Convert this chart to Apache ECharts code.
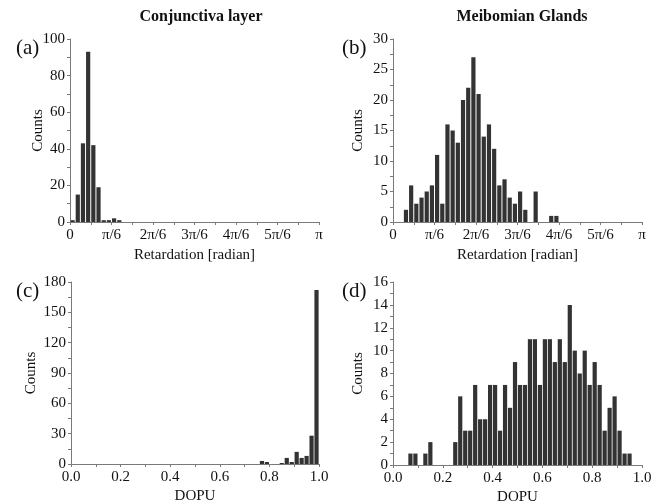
<!DOCTYPE html>
<html>
<head>
<meta charset="utf-8">
<script src="https://cdn.jsdelivr.net/npm/echarts@6/dist/echarts.min.js"></script>
<style>
  html, body { margin: 0; padding: 0; background: #fff; }
  #chart { width: 654px; height: 503px; }
</style>
</head>
<body>
<div id="chart"></div>
<script>
// histogram counts, one value per bin
// retardation: 48 bins of pi/48 from 0 to pi
const conjRetardation = [1, 15, 43, 93, 42, 19, 1, 1, 2, 1, 0, 0, 0, 0, 0, 0,
  0, 0, 0, 0, 0, 0, 0, 0, 0, 0, 0, 0, 0, 0, 0, 0,
  0, 0, 0, 0, 0, 0, 0, 0, 0, 0, 0, 0, 0, 0, 0, 0];
const meibRetardation = [0, 0, 2, 6, 3, 4, 5, 6, 11, 3, 16, 15, 13, 20, 22, 27,
  21, 14, 16, 12, 6, 7, 4, 3, 5, 2, 0, 5, 0, 0, 1, 1,
  0, 0, 0, 0, 0, 0, 0, 0, 0, 0, 0, 0, 0, 0, 0, 0];
// DOPU: 50 bins of 0.02 from 0 to 1
const conjDopu = [0, 0, 0, 0, 0, 0, 0, 0, 0, 0, 0, 0, 0, 0, 0, 0, 0, 0, 0, 0,
  0, 0, 0, 0, 0, 0, 0, 0, 0, 0, 0, 0, 0, 0, 0, 0, 0, 0, 3, 2,
  0, 0, 1, 6, 2, 12, 6, 8, 28, 172];
const meibDopu = [0, 0, 0, 1, 1, 0, 1, 2, 0, 0, 0, 0, 2, 6, 3, 3, 7, 4, 4, 7,
  7, 3, 7, 5, 9, 7, 7, 11, 11, 7, 11, 11, 9, 11, 9, 14, 10, 8, 10, 7,
  9, 7, 3, 5, 6, 3, 1, 1, 0, 0];

const retardationLabels = ['0', 'π/6', '2π/6', '3π/6', '4π/6', '5π/6', 'π'];
const dopuLabels = ['0.0', '0.2', '0.4', '0.6', '0.8', '1.0'];
const columnTitles = ['Conjunctiva layer', 'Meibomian Glands'];
const panelLetters = ['(a)', '(b)', '(c)', '(d)'];

const FONT = '"Liberation Serif", "DejaVu Serif", serif';
const AXIS_GRAY = '#7a7a7a';

const binWidthRet = Math.PI / 48;
const binWidthDopu = 0.02;

function toPoints(counts, width) {
  return counts.map((c, i) => [(i + 0.5) * width, c]);
}

const grids = [
  { left: 70, top: 39, width: 249, height: 183 },
  { left: 393, top: 39, width: 249, height: 183 },
  { left: 71, top: 282, width: 248, height: 182 },
  { left: 393, top: 282, width: 249, height: 183 }
].map(g => Object.assign(g, { outerBoundsMode: 'none', containLabel: false }));

function xAxisFor(gridIndex, isRet) {
  return {
    type: 'value',
    gridIndex: gridIndex,
    min: 0,
    max: isRet ? Math.PI : 1,
    interval: isRet ? Math.PI / 6 : 0.2,
    name: isRet ? 'Retardation [radian]' : 'DOPU',
    nameLocation: 'middle',
    nameMoveOverlap: false,
    nameGap: isRet ? 26 : 25,
    nameTextStyle: { fontFamily: FONT, fontSize: 15, color: '#111' },
    axisLine: { show: true, lineStyle: { color: AXIS_GRAY, width: 1 } },
    axisTick: { show: true, length: 3, lineStyle: { color: AXIS_GRAY } },
    minorTick: { show: true, splitNumber: 2, length: 3, lineStyle: { color: AXIS_GRAY } },
    splitLine: { show: false },
    axisLabel: {
      margin: 6,
      fontFamily: FONT,
      fontSize: 15,
      color: '#111',
      formatter: function (v) {
        if (isRet) return retardationLabels[Math.round(v / (Math.PI / 6))];
        return dopuLabels[Math.round(v / 0.2)];
      }
    }
  };
}

function yAxisFor(gridIndex, max, interval, gap) {
  return {
    type: 'value',
    gridIndex: gridIndex,
    min: 0,
    max: max,
    interval: interval,
    name: 'Counts',
    nameLocation: 'middle',
    nameMoveOverlap: false,
    nameGap: gap,
    nameTextStyle: { fontFamily: FONT, fontSize: 15, color: '#111' },
    axisLine: { show: true, lineStyle: { color: AXIS_GRAY, width: 1 } },
    axisTick: { show: true, length: 3, lineStyle: { color: AXIS_GRAY } },
    minorTick: { show: true, splitNumber: 2, length: 3, lineStyle: { color: AXIS_GRAY } },
    splitLine: { show: false },
    axisLabel: { margin: 5, fontFamily: FONT, fontSize: 15, color: '#111' }
  };
}

function barSeries(idx, data) {
  return {
    type: 'bar',
    xAxisIndex: idx,
    yAxisIndex: idx,
    data: data,
    barWidth: 4.2,
    itemStyle: { color: '#333' },
    silent: true,
    animation: false
  };
}

const chart = echarts.init(document.getElementById('chart'));

const titles = [
  { text: columnTitles[0], left: 196, top: 4, textAlign: 'center' },
  { text: columnTitles[1], left: 517, top: 4, textAlign: 'center' }
].map(t => Object.assign(t, {
  textStyle: { fontFamily: FONT, fontSize: 16, fontWeight: 'bold', color: '#111' }
}));

const letterPos = [[11, 33], [337, 33], [11, 276], [337, 276]];
letterPos.forEach((p, i) => {
  titles.push({
    text: panelLetters[i],
    left: p[0],
    top: p[1],
    textStyle: { fontFamily: FONT, fontSize: 21, fontWeight: 'normal', color: '#111' }
  });
});

chart.setOption({
  backgroundColor: '#fff',
  animation: false,
  title: titles,
  grid: grids,
  xAxis: [xAxisFor(0, true), xAxisFor(1, true), xAxisFor(2, false), xAxisFor(3, false)],
  yAxis: [
    yAxisFor(0, 100, 20, 24),
    yAxisFor(1, 30, 5, 27),
    yAxisFor(2, 180, 30, 32),
    yAxisFor(3, 16, 2, 27)
  ],
  series: [
    barSeries(0, toPoints(conjRetardation, binWidthRet)),
    barSeries(1, toPoints(meibRetardation, binWidthRet)),
    barSeries(2, toPoints(conjDopu, binWidthDopu)),
    barSeries(3, toPoints(meibDopu, binWidthDopu))
  ]
});
</script>
</body>
</html>
